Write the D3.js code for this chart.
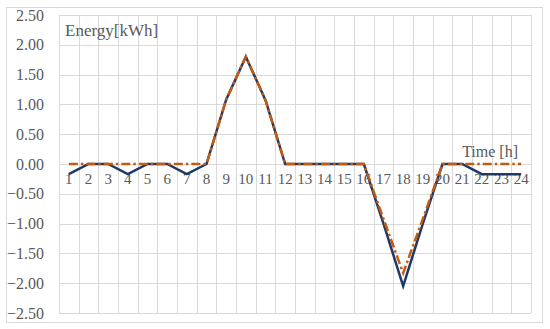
<!DOCTYPE html>
<html>
<head>
<meta charset="utf-8">
<script src="https://cdn.jsdelivr.net/npm/d3@7"></script>
<style>
body { margin: 0; background: #fff; }
svg text { font-family: 'Liberation Serif', 'Times New Roman', serif; fill: #595959; }
</style>
</head>
<body>
<div id="chart"></div>
<script>
var hours = [1, 2, 3, 4, 5, 6, 7, 8, 9, 10, 11, 12, 13, 14, 15, 16, 17, 18, 19, 20, 21, 22, 23, 24];
var energyA = [-0.17, 0, 0, -0.17, 0, 0, -0.17, 0, 1.08, 1.80, 1.07, 0, 0, 0, 0, 0, -1.0, -2.05, -1.0, 0, 0, -0.17, -0.17, -0.17];
var energyB = [0, 0, 0, 0, 0, 0, 0, 0, 1.08, 1.80, 1.07, 0, 0, 0, 0, 0, -0.92, -1.83, -0.92, 0, 0, 0, 0, 0];
var yTicks = [2.5, 2, 1.5, 1, 0.5, 0, -0.5, -1, -1.5, -2, -2.5];

var margin = {top: 15, right: 19, bottom: 16, left: 59},
    width = 550 - margin.left - margin.right,
    height = 329 - margin.top - margin.bottom;

var svg = d3.select('#chart')
    .append('svg')
    .attr('width', 550)
    .attr('height', 329)

// outer frame
svg.append('rect')
    .attr('x', 6.5)
    .attr('y', 7.5)
    .attr('width', 536)
    .attr('height', 315)
    .attr('fill', 'none')
    .attr('stroke', '#d9d9d9')
    .attr('stroke-width', 1)

var g = svg.append('g')
    .attr('transform', 'translate(' + margin.left + ',' + margin.top + ')')

var x = d3.scaleBand()
    .domain(hours)
    .range([0, width])
var y = d3.scaleLinear()
    .domain([-2.5, 2.5])
    .range([height, 0])

// vertical grid at category edges
var edges = hours.map(function (d) { return x(d); }).concat([width]);
g.selectAll('.vgrid')
    .data(edges)
    .enter()
    .append('line')
    .attr('x1', function (d) { return Math.round(d) + 0.5; })
    .attr('x2', function (d) { return Math.round(d) + 0.5; })
    .attr('y1', 0)
    .attr('y2', height)
    .attr('stroke', '#d9d9d9')

g.selectAll('.hgrid')
    .data(yTicks)
    .enter()
    .append('line')
    .attr('x1', 0)
    .attr('x2', width)
    .attr('y1', function (d) { return Math.round(y(d)) + 0.5; })
    .attr('y2', function (d) { return Math.round(y(d)) + 0.5; })
    .attr('stroke', '#d9d9d9')

var yAxis = g.append('g')
    .call(d3.axisLeft(y).tickValues(yTicks).tickFormat(d3.format('.2f')).tickSize(0).tickPadding(15))
yAxis.select('.domain').remove()
yAxis.selectAll('text')
    .attr('font-size', 16)
    .attr('font-family', null)
    .attr('fill', null)

var xAxis = g.append('g')
    .attr('transform', 'translate(0,' + y(0) + ')')
    .call(d3.axisBottom(x).tickSize(0).tickPadding(9))
xAxis.select('.domain').remove()
xAxis.selectAll('text')
    .attr('font-size', 15)
    .attr('font-family', null)
    .attr('fill', null)

var line = d3.line()
    .x(function (d, i) { return x(hours[i]) + x.bandwidth() / 2; })
    .y(function (d) { return y(d); })

g.append('path')
    .datum(energyA)
    .attr('d', line)
    .attr('fill', 'none')
    .attr('stroke', '#203864')
    .attr('stroke-width', 2.5)
    .attr('stroke-linejoin', 'miter')

g.append('path')
    .datum(energyB)
    .attr('d', line)
    .attr('fill', 'none')
    .attr('stroke', '#c55a11')
    .attr('stroke-width', 2.5)
    .attr('stroke-dasharray', '9,3,2.5,3')

svg.append('text')
    .attr('x', 65)
    .attr('y', 36)
    .attr('font-size', 17)
    .text('Energy[kWh]')

svg.append('text')
    .attr('x', 518)
    .attr('y', 157)
    .attr('text-anchor', 'end')
    .attr('font-size', 16)
    .text('Time [h]')
</script>
</body>
</html>
